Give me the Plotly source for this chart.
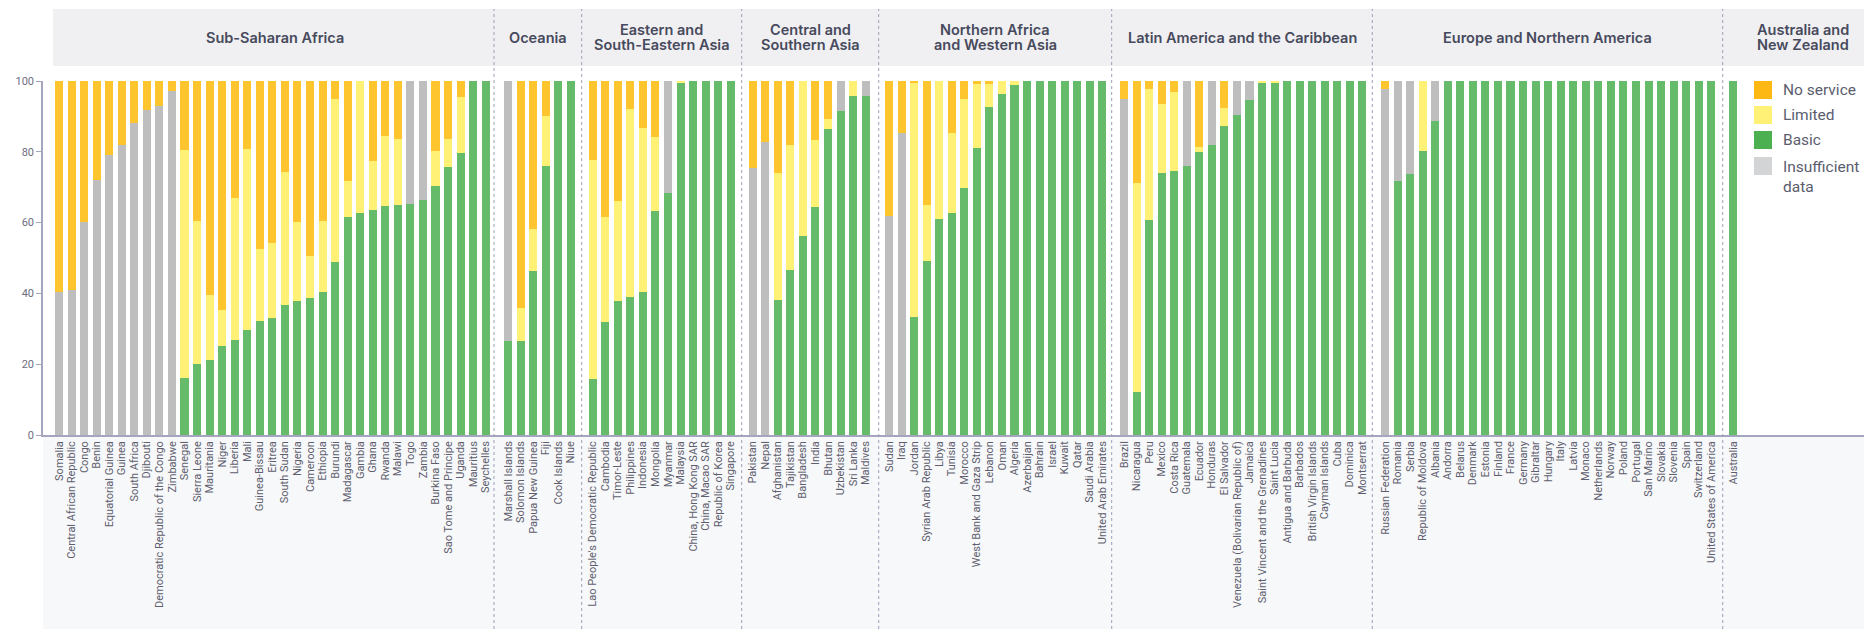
import plotly.graph_objects as go

# ---------------- data ----------------
ssa_countries = ["Somalia", "Central African Republic", "Congo", "Benin", "Equatorial Guinea", "Guinea",
                 "South Africa", "Djibouti", "Democratic Republic of the Congo", "Zimbabwe", "Senegal",
                 "Sierra Leone", "Mauritania", "Niger", "Liberia", "Mali", "Guinea-Bissau", "Eritrea",
                 "South Sudan", "Nigeria", "Cameroon", "Ethiopia", "Burundi", "Madagascar", "Gambia",
                 "Ghana", "Rwanda", "Malawi", "Togo", "Zambia", "Burkina Faso", "Sao Tome and Principe",
                 "Uganda", "Mauritius", "Seychelles"]
ssa_basic = [0, 0, 0, 0, 0, 0, 0, 0, 0, 0, 16.1, 20.0, 21.2, 25.1, 26.8, 29.7, 32.2, 33.1, 36.7, 37.9,
             38.7, 40.4, 48.9, 61.7, 62.7, 63.6, 64.7, 65.0, 65.3, 66.3, 70.3, 75.6, 79.6, 100, 100]
ssa_limited = [0, 0, 0, 0, 0, 0, 0, 0, 0, 0, 64.4, 40.5, 18.3, 10.2, 40.2, 51.1, 20.3, 21.2, 37.6, 22.3,
               11.9, 20.1, 46.0, 10.1, 37.3, 13.8, 19.8, 18.6, 0, 0, 9.9, 7.9, 15.8, 0, 0]
ssa_nodata = [40.5, 41.1, 60.3, 72.1, 79.1, 81.9, 88.2, 91.9, 93.0, 97.2, 0, 0, 0, 0, 0, 0, 0, 0, 0, 0,
              0, 0, 0, 0, 0, 0, 0, 0, 34.7, 33.7, 0, 0, 0, 0, 0]
ssa_noservice = [59.5, 58.9, 39.7, 27.9, 20.9, 18.1, 11.8, 8.1, 7.0, 2.8, 19.5, 39.5, 60.5, 64.7, 33.0,
                 19.2, 47.5, 45.7, 25.7, 39.8, 49.4, 39.5, 5.1, 28.2, 0, 22.6, 15.5, 16.4, 0, 0, 19.8,
                 16.5, 4.6, 0, 0]

oce_countries = ["Marshall Islands", "Solomon Islands", "Papua New Guinea", "Fiji", "Cook Islands", "Niue"]
oce_basic = [26.5, 26.5, 46.3, 75.9, 100, 100]
oce_limited = [0, 9.3, 11.8, 14.1, 0, 0]
oce_nodata = [73.5, 0, 0, 0, 0, 0]
oce_noservice = [0, 64.2, 41.9, 10.0, 0, 0]

esea_countries = ["Lao People's Democratic Republic", "Cambodia", "Timor-Leste", "Philippines", "Indonesia",
                  "Mongolia", "Myanmar", "Malaysia", "China, Hong Kong SAR", "China, Macao SAR",
                  "Republic of Korea", "Singapore"]
esea_basic = [15.8, 31.9, 37.8, 38.9, 40.4, 63.2, 68.3, 99.6, 100, 100, 100, 100]
esea_limited = [61.8, 29.6, 28.2, 53.1, 46.2, 20.9, 0, 0.4, 0, 0, 0, 0]
esea_nodata = [0, 0, 0, 0, 0, 0, 31.7, 0, 0, 0, 0, 0]
esea_noservice = [22.4, 38.5, 34.0, 8.0, 13.4, 15.9, 0, 0, 0, 0, 0, 0]

csa_countries = ["Pakistan", "Nepal", "Afghanistan", "Tajikistan", "Bangladesh", "India", "Bhutan",
                 "Uzbekistan", "Sri Lanka", "Maldives"]
csa_basic = [0, 0, 38.1, 46.5, 56.2, 64.4, 86.4, 91.5, 95.7, 95.7]
csa_limited = [0, 0, 36.0, 35.5, 43.8, 18.9, 2.8, 0, 4.3, 0]
csa_nodata = [75.5, 82.9, 0, 0, 0, 0, 0, 8.5, 0, 4.3]
csa_noservice = [24.5, 17.1, 25.9, 18.0, 0, 16.7, 10.8, 0, 0, 0]

nawa_countries = ["Sudan", "Iraq", "Jordan", "Syrian Arab Republic", "Libya", "Tunisia", "Morocco",
                  "West Bank and Gaza Strip", "Lebanon", "Oman", "Algeria", "Azerbaijan", "Bahrain",
                  "Israel", "Kuwait", "Qatar", "Saudi Arabia", "United Arab Emirates"]
nawa_basic = [0, 0, 33.3, 49.1, 61.0, 62.7, 69.7, 81.0, 92.6, 96.3, 98.8, 100, 100, 100, 100, 100, 100, 100]
nawa_limited = [0, 0, 66.1, 15.8, 39.0, 22.6, 25.2, 18.1, 6.5, 3.7, 1.2, 0, 0, 0, 0, 0, 0, 0]
nawa_nodata = [61.8, 85.4, 0, 0, 0, 0, 0, 0, 0, 0, 0, 0, 0, 0, 0, 0, 0, 0]
nawa_noservice = [38.2, 14.6, 0.6, 35.1, 0, 14.7, 5.1, 0.9, 0.9, 0, 0, 0, 0, 0, 0, 0, 0, 0]

lac_countries = ["Brazil", "Nicaragua", "Peru", "Mexico", "Costa Rica", "Guatemala", "Ecuador", "Honduras",
                 "El Salvador", "Venezuela (Bolivarian Republic of)", "Jamaica",
                 "Saint Vincent and the Grenadines", "Saint Lucia", "Antigua and Barbuda", "Barbados",
                 "British Virgin Islands", "Cayman Islands", "Cuba", "Dominica", "Montserrat"]
lac_basic = [0, 12.1, 60.7, 74.0, 74.5, 75.9, 79.9, 81.9, 87.2, 90.4, 94.6, 99.4, 99.4,
             100, 100, 100, 100, 100, 100, 100]
lac_limited = [0, 59.1, 37.1, 19.5, 22.4, 0, 1.4, 0, 5.1, 0, 0, 0.6, 0.6, 0, 0, 0, 0, 0, 0, 0]
lac_nodata = [94.9, 0, 0, 0, 0, 24.1, 0, 18.1, 0, 9.6, 5.4, 0, 0, 0, 0, 0, 0, 0, 0, 0]
lac_noservice = [5.1, 28.8, 2.2, 6.5, 3.1, 0, 18.7, 0, 7.7, 0, 0, 0, 0, 0, 0, 0, 0, 0, 0, 0]

ena_countries = ["Russian Federation", "Romania", "Serbia", "Republic of Moldova", "Albania", "Andorra",
                 "Belarus", "Denmark", "Estonia", "Finland", "France", "Germany", "Gibraltar", "Hungary",
                 "Italy", "Latvia", "Monaco", "Netherlands", "Norway", "Poland", "Portugal", "San Marino",
                 "Slovakia", "Slovenia", "Spain", "Switzerland", "United States of America"]
ena_basic = [0, 71.8, 73.6, 80.3, 88.8] + [100] * 22
ena_limited = [0, 0, 0, 19.7, 0] + [0] * 22
ena_nodata = [97.8, 28.2, 26.4, 0, 11.2] + [0] * 22
ena_noservice = [2.2, 0, 0, 0, 0] + [0] * 22

anz_countries = ["Australia"]
anz_basic = [100]
anz_limited = [0]
anz_nodata = [0]
anz_noservice = [0]

region_titles = [["Sub-Saharan Africa"], ["Oceania"], ["Eastern and", "South-Eastern Asia"],
                 ["Central and", "Southern Asia"], ["Northern Africa", "and Western Asia"],
                 ["Latin America and the Caribbean"], ["Europe and Northern America"],
                 ["Australia and", "New Zealand"]]

regions = [
    (ssa_countries, ssa_basic, ssa_limited, ssa_nodata, ssa_noservice),
    (oce_countries, oce_basic, oce_limited, oce_nodata, oce_noservice),
    (esea_countries, esea_basic, esea_limited, esea_nodata, esea_noservice),
    (csa_countries, csa_basic, csa_limited, csa_nodata, csa_noservice),
    (nawa_countries, nawa_basic, nawa_limited, nawa_nodata, nawa_noservice),
    (lac_countries, lac_basic, lac_limited, lac_nodata, lac_noservice),
    (ena_countries, ena_basic, ena_limited, ena_nodata, ena_noservice),
    (anz_countries, anz_basic, anz_limited, anz_nodata, anz_noservice),
]

series_names = ["Basic", "Limited", "Insufficient data", "No service"]
series_colors = ["#66BB6A", "#FFF176", "#BEBEBE", "#FEC52E"]

legend_labels = ["No service", "Limited", "Basic", "Insufficient<br>data"]
legend_colors = ["#FDB813", "#FFF176", "#4CAF50", "#D3D4D6"]

# ---------------- layout geometry (pixels) ----------------
W, H = 1864, 629
ML = 43
PT, PB = 81, 435           # y=100 and y=0 pixel rows
PW = W - ML
PH = PB - PT
STEP = 12.55               # px per category
bounds = [43, 494, 581.7, 741.7, 878.7, 1111.7, 1372.3, 1722.7, 1864]
first_centers = [59, 508, 592.7, 752.7, 889, 1124, 1385, 1733.3]
header_centers = [275, 537.8, 661.7, 810, 995, 1242, 1547.5, 1802.5]


def px_x(px):
    return (px - ML) / PW


def px_y(py):
    return (PB - py) / PH


fig = go.Figure()
layout_axes = {}
for i, (countries, basic, limited, nodata, noservice) in enumerate(regions):
    ax = "x" if i == 0 else f"x{i + 1}"
    vals = [basic, limited, nodata, noservice]
    for k in range(4):
        fig.add_trace(go.Bar(
            x=countries, y=vals[k], name=series_names[k], xaxis=ax, yaxis="y",
            marker=dict(color=series_colors[k], line=dict(width=0)),
            legendgroup=series_names[k], showlegend=False,
            hovertemplate="%{x}: %{y}%<extra>" + series_names[k] + "</extra>",
        ))
    L, R = bounds[i], bounds[i + 1]
    c0 = first_centers[i]
    key = "xaxis" if i == 0 else f"xaxis{i + 1}"
    layout_axes[key] = dict(
        domain=[px_x(L), px_x(R)], anchor="y", type="category",
        categoryorder="array", categoryarray=countries,
        tickmode="array", tickvals=countries, ticktext=countries,
        range=[(L - c0) / STEP, (R - c0) / STEP],
        tickangle=-90, tickfont=dict(family="Roboto", size=11, color="#5e5e6e"),
        showline=True, linecolor="#a5a5bf", linewidth=1.5, ticks="",
        showgrid=False, zeroline=False, fixedrange=True,
    )

fig.update_layout(**layout_axes)
fig.update_layout(
    width=W, height=H,
    margin=dict(l=ML, r=0, t=PT, b=H - PB, pad=0),
    barmode="stack", bargap=0.36,
    plot_bgcolor="white", paper_bgcolor="white",
    font=dict(family="Inter", color="#5c5f70"),
    yaxis=dict(range=[0, 100], tickvals=[0, 20, 40, 60, 80, 100], showgrid=False, zeroline=False,
               showline=True, linecolor="#a5a5bf", linewidth=1.5, ticks="outside", ticklen=5,
               tickcolor="#a5a5bf", tickfont=dict(family="Roboto", size=11, color="#6e6e80"),
               fixedrange=True),
    showlegend=False,
)

shapes = []
# header band
shapes.append(dict(type="rect", xref="paper", yref="paper", x0=px_x(53), x1=px_x(W),
                   y0=px_y(66), y1=px_y(9), fillcolor="#f0f0f3", line=dict(width=0), layer="below"))
# bottom label band
shapes.append(dict(type="rect", xref="paper", yref="paper", x0=px_x(43), x1=px_x(W),
                   y0=px_y(H), y1=px_y(PB), fillcolor="#f7f8fa", line=dict(width=0), layer="below"))
# dashed facet separators
for b in bounds[1:-1]:
    shapes.append(dict(type="line", xref="paper", yref="paper", x0=px_x(b), x1=px_x(b),
                       y0=px_y(H), y1=px_y(9), line=dict(color="#9d9db8", width=1, dash="3px,3px"),
                       layer="above"))

annotations = []
for title_lines, cx in zip(region_titles, header_centers):
    if len(title_lines) == 1:
        ys = [37]
    else:
        ys = [30, 44.5]
    for line, py in zip(title_lines, ys):
        annotations.append(dict(text=line, xref="paper", yref="paper", x=px_x(cx), y=px_y(py),
                                xanchor="center", yanchor="middle", showarrow=False,
                                font=dict(family="Inter", size=14.5, color="#474a5c", weight=600)))

# legend (swatches + labels)
legend_rows = [90, 115, 140, 166]
for label, color, cy in zip(legend_labels, legend_colors, legend_rows):
    shapes.append(dict(type="rect", xref="paper", yref="paper", x0=px_x(1754), x1=px_x(1772),
                       y0=px_y(cy + 9), y1=px_y(cy - 9), fillcolor=color, line=dict(width=0)))
    text_y = cy + 10.5 if "<br>" in label else cy
    annotations.append(dict(text=label, xref="paper", yref="paper", x=px_x(1782), y=px_y(text_y),
                            xanchor="left", yanchor="middle", align="left", showarrow=False,
                            borderpad=0,
                            font=dict(family="Roboto", size=15.5, color="#5a5d6e")))

fig.update_layout(shapes=shapes, annotations=annotations)

fig.write_html("out.html", config={"displayModeBar": False},
               post_script="document.body.style.margin='0';document.body.style.overflow='hidden';")
